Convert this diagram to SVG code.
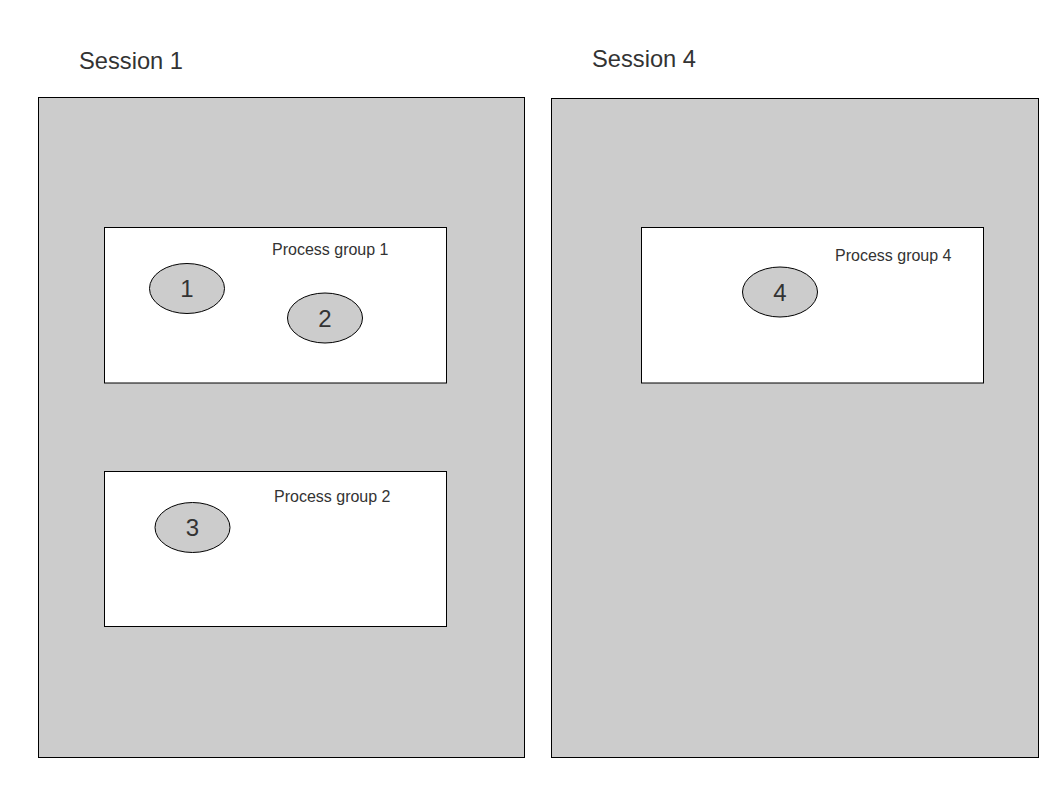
<svg xmlns="http://www.w3.org/2000/svg" width="1058" height="794" viewBox="0 0 1058 794">
<style>
.session{fill:#cccccc;stroke:#000;stroke-width:1}
.group{fill:#fff;stroke:#000;stroke-width:1}
.proc{fill:#cccccc;stroke:#000;stroke-width:1}
.title{font-family:"Liberation Sans",Arial,sans-serif;font-size:23.7px;fill:#333}
.glabel{font-family:"Liberation Sans",Arial,sans-serif;font-size:16px;fill:#333}
.num{font-family:"Liberation Sans",Arial,sans-serif;font-size:24px;fill:#333;text-anchor:middle}
</style>
<rect width="1058" height="794" fill="#fff"/>
<g id="session1">
<text class="title" x="79" y="69">Session 1</text>
<rect class="session" x="38.5" y="97.5" width="486" height="660"/>
</g>
<g id="session4">
<text class="title" x="592" y="67">Session 4</text>
<rect class="session" x="551.5" y="98.5" width="487" height="659"/>
</g>
<g id="pg1">
<rect class="group" x="104.5" y="227.5" width="342" height="155.5"/>
<text class="glabel" x="272" y="255">Process group 1</text>
</g>
<g id="pg2">
<rect class="group" x="104.5" y="471.5" width="342" height="155"/>
<text class="glabel" x="274" y="502">Process group 2</text>
</g>
<g id="pg4">
<rect class="group" x="641.5" y="227.5" width="342" height="155.5"/>
<text class="glabel" x="835" y="261">Process group 4</text>
</g>
<g id="p1">
<ellipse class="proc" cx="187" cy="288.5" rx="37.5" ry="25"/>
<text class="num" x="187" y="297">1</text>
</g>
<g id="p2">
<ellipse class="proc" cx="325" cy="318" rx="37.5" ry="25"/>
<text class="num" x="325" y="326.5">2</text>
</g>
<g id="p3">
<ellipse class="proc" cx="192.5" cy="527.5" rx="37.5" ry="25"/>
<text class="num" x="192.5" y="536">3</text>
</g>
<g id="p4">
<ellipse class="proc" cx="780" cy="292" rx="37.5" ry="25"/>
<text class="num" x="780" y="300.5">4</text>
</g>
<g id="connectors"></g>
</svg>
